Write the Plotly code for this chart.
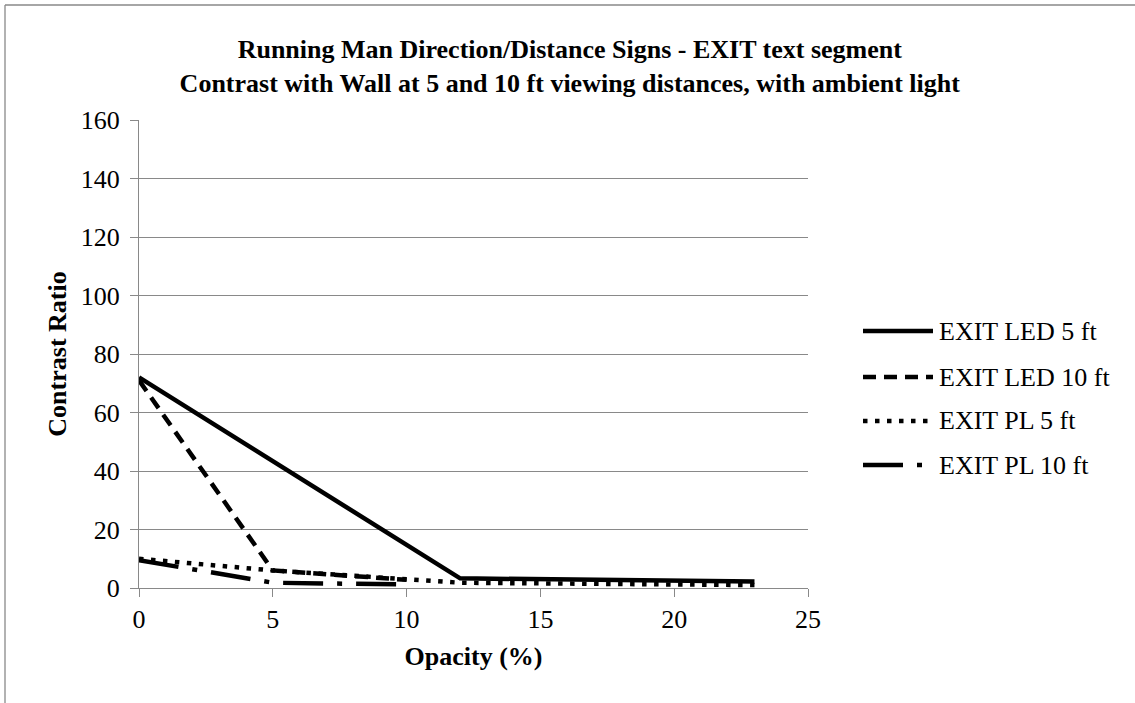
import plotly.graph_objects as go

# ---- data ----
led5_x = [0, 12, 23]
led5_y = [72, 3.3, 2.2]
led10_x = [0, 5, 10]
led10_y = [71, 6, 2.8]
pl5_x = [0, 5, 10, 12, 23]
pl5_y = [10, 6, 3, 1.8, 1.0]
pl10_x = [0, 5, 10]
pl10_y = [9.5, 1.8, 1.2]

series_names = ["EXIT LED 5 ft", "EXIT LED 10 ft", "EXIT PL 5 ft", "EXIT PL 10 ft"]
x_ticks = [0, 5, 10, 15, 20, 25]
y_ticks = [0, 20, 40, 60, 80, 100, 120, 140, 160]

W, H = 1135, 703
ML, MR, MT, MB = 139, 327, 120, 115
PW, PH = W - ML - MR, H - MT - MB

FONT = "Liberation Serif, Times New Roman, serif"
GRID = "#898989"
LW = 4.5
FS = 26

styles = [
    dict(dash="solid"),
    dict(dash="13px,8px"),
    dict(dash="4.5px,7.5px"),
    dict(dash="40px,14px,5px,14px"),
]

fig = go.Figure()
for name, xs, ys, st in zip(series_names,
                            [led5_x, led10_x, pl5_x, pl10_x],
                            [led5_y, led10_y, pl5_y, pl10_y],
                            styles):
    fig.add_trace(go.Scatter(x=xs, y=ys, mode="lines", name=name,
                             line=dict(color="black", width=LW, dash=st["dash"]),
                             showlegend=False))

def px2paper_x(px):
    return (px - ML) / PW

def px2paper_y(py):
    return (H - MB - py) / PH

shapes = []
annotations = []
# manual legend (70px line samples like the reference)
leg_y = [331, 377, 421, 465]
for name, st, yy in zip(series_names, styles, leg_y):
    shapes.append(dict(type="line", xref="paper", yref="paper",
                       x0=px2paper_x(863), x1=px2paper_x(933),
                       y0=px2paper_y(yy), y1=px2paper_y(yy),
                       line=dict(color="black", width=LW, dash=st["dash"])))
    annotations.append(dict(xref="paper", yref="paper",
                            x=px2paper_x(937), y=px2paper_y(yy),
                            xanchor="left", yanchor="middle", showarrow=False,
                            text=name, font=dict(family=FONT, size=FS, color="black")))

# outer chart border (top and left)
shapes.append(dict(type="line", xref="paper", yref="paper",
                   x0=px2paper_x(5), x1=px2paper_x(W + 5),
                   y0=px2paper_y(5), y1=px2paper_y(5),
                   line=dict(color=GRID, width=1.3)))
shapes.append(dict(type="line", xref="paper", yref="paper",
                   x0=px2paper_x(5), x1=px2paper_x(5),
                   y0=px2paper_y(5), y1=px2paper_y(H + 5),
                   line=dict(color=GRID, width=1.3)))

fig.update_layout(
    width=W, height=H,
    margin=dict(l=ML, r=MR, t=MT, b=MB, pad=0),
    paper_bgcolor="white", plot_bgcolor="white",
    title=dict(text="<b>Running Man Direction/Distance Signs - EXIT text segment<br>"
                    "Contrast with Wall at 5 and 10 ft viewing distances, with ambient light</b>",
               x=0.502, xanchor="center", y=1 - 58 / H, yanchor="middle",
               font=dict(family=FONT, size=FS, color="black")),
    font=dict(family=FONT, size=FS, color="black"),
    shapes=shapes, annotations=annotations,
    xaxis=dict(range=[0, 25], tickvals=x_ticks, ticktext=[str(v) for v in x_ticks],
               showgrid=False, zeroline=False, showline=True, linecolor=GRID, linewidth=1.3,
               ticks="outside", ticklen=8, tickcolor=GRID, tickwidth=1.3,
               tickfont=dict(family=FONT, size=FS, color="black"),
               title=dict(text="<b>Opacity (%)</b>", standoff=13,
                          font=dict(family=FONT, size=FS, color="black"))),
    yaxis=dict(range=[0, 160], tickvals=y_ticks, ticktext=[str(v) for v in y_ticks],
               showgrid=True, gridcolor=GRID, gridwidth=1.3, zeroline=False,
               showline=True, linecolor=GRID, linewidth=1.3,
               ticks="outside", ticklen=8, tickcolor=GRID, tickwidth=1.3,
               ticklabelstandoff=5,
               tickfont=dict(family=FONT, size=FS, color="black"),
               title=dict(text="<b>Contrast Ratio</b>", standoff=6,
                          font=dict(family=FONT, size=FS, color="black"))),
)

fig.write_html("out.html", config={"displayModeBar": False},
               post_script="document.body.style.margin='0';")
